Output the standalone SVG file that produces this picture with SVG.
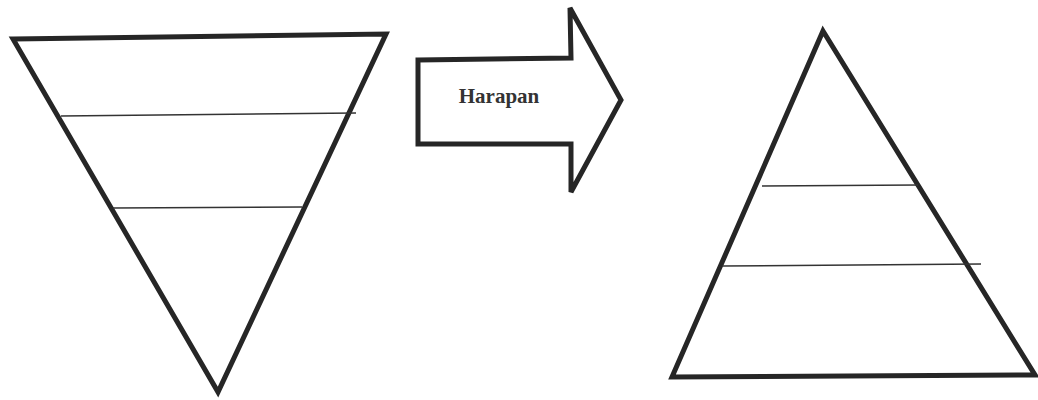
<svg xmlns="http://www.w3.org/2000/svg" width="1038" height="400" viewBox="0 0 1038 400">
  <style>
    .outline { fill: none; stroke: #262626; stroke-width: 5; stroke-linejoin: miter; }
    .tier { stroke: #333; stroke-width: 1.6; }
    .label { font-family: "Liberation Serif", "Times New Roman", serif; font-weight: bold; font-size: 21px; fill: #333; }
  </style>
  <rect width="1038" height="400" fill="#fff"/>

  <!-- inverted pyramid -->
  <g id="inverted-pyramid">
    <polygon class="outline" points="13,39 386,34 218,392"/>
    <line class="tier" x1="61" y1="116" x2="356" y2="113"/>
    <line class="tier" x1="113" y1="208" x2="302" y2="207"/>
  </g>

  <!-- arrow labelled Harapan -->
  <g id="arrow-harapan">
    <polygon class="outline" points="418,60 571,58 570,8 621,100 571,192 571,144 418,144"/>
    <text class="label" x="499" y="103" text-anchor="middle">Harapan</text>
  </g>

  <!-- upright pyramid -->
  <g id="upright-pyramid">
    <polygon class="outline" points="823,31 1035,375 672,377"/>
    <line class="tier" x1="762" y1="186" x2="918" y2="185"/>
    <line class="tier" x1="722" y1="266" x2="981" y2="264"/>
  </g>
</svg>
